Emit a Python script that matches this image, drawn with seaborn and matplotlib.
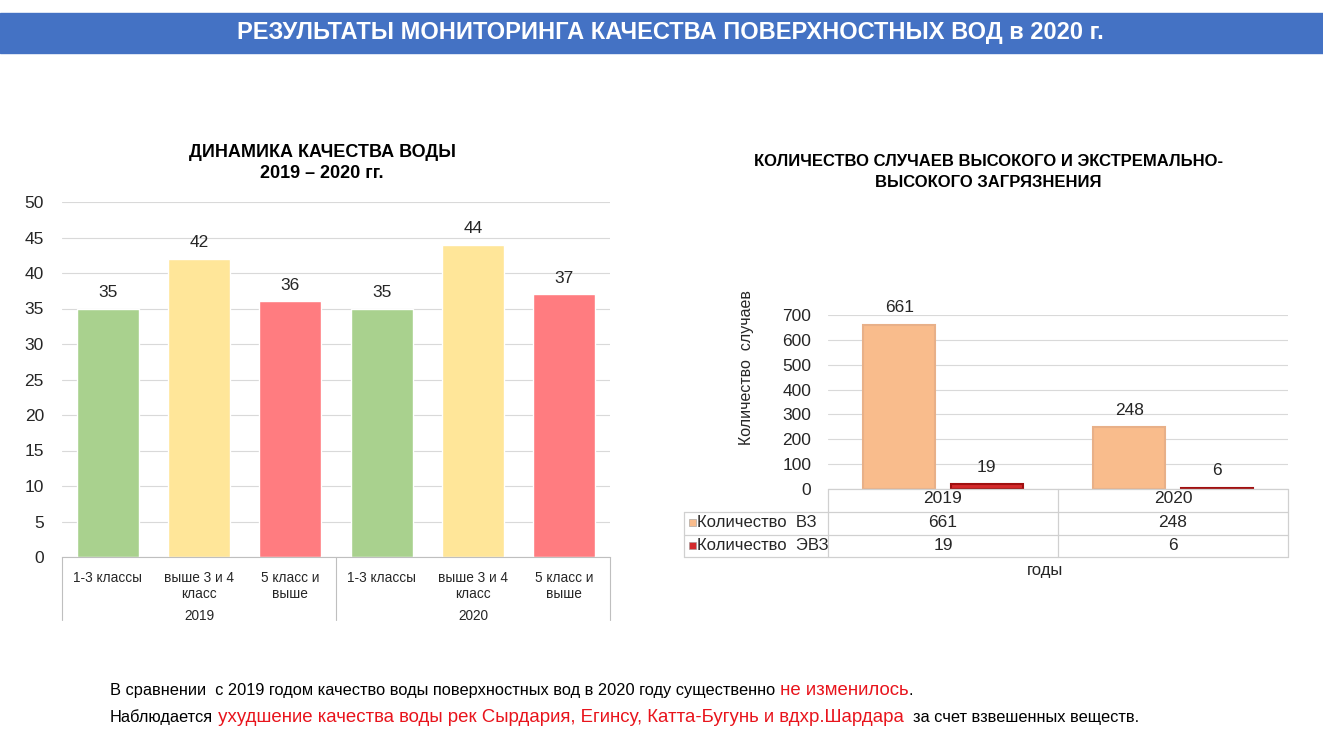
import numpy as np
import pandas as pd
import matplotlib
matplotlib.use("Agg")
import matplotlib.pyplot as plt
import seaborn as sns
from matplotlib.transforms import blended_transform_factory as btf
from matplotlib.patches import Rectangle
from matplotlib.lines import Line2D

# ---------------- data ----------------
years = ["2019", "2020"]
classes = ["1-3 классы", "выше 3 и 4\nкласс", "5 класс и\nвыше"]
quality_2019 = [35, 42, 36]
quality_2020 = [35, 44, 37]
class_colors = ["#A9D18E", "#FFE699", "#FF7C80"]

series_names = ["Количество  ВЗ", "Количество  ЭВЗ"]
vz = [661, 248]
evz = [19, 6]
series_colors = ["#F9BC8C", "#D42A2C"]
series_edges = ["#E8B088", "#A01010"]

main_title = "РЕЗУЛЬТАТЫ МОНИТОРИНГА КАЧЕСТВА ПОВЕРХНОСТНЫХ ВОД в 2020 г."
left_title = "ДИНАМИКА КАЧЕСТВА ВОДЫ\n2019 – 2020 гг."
right_title = "КОЛИЧЕСТВО СЛУЧАЕВ ВЫСОКОГО И ЭКСТРЕМАЛЬНО-\nВЫСОКОГО ЗАГРЯЗНЕНИЯ"
y2_label = "Количество  случаев"
x2_label = "годы"

RED = "#E8141C"
line1 = [("В сравнении  с 2019 годом качество воды поверхностных вод в 2020 году существенно", "black", 11.8),
         (" не изменилось", RED, 13.4),
         (".", "black", 11.8)]
line2 = [("Наблюдается", "black", 11.8),
         (" ухудшение качества воды рек Сырдария, Егинсу, Катта-Бугунь и вдхр.Шардара", RED, 13.4),
         ("  за счет взвешенных веществ.", "black", 11.8)]

# ---------------- style ----------------
sns.set_style("white")
NARROW = ['Liberation Sans Narrow', 'Liberation Sans', 'DejaVu Sans']
plt.rcParams['font.family'] = NARROW
TXT = "#262626"
GRID = "#D9D9D9"

W, H = 1323, 744
fig = plt.figure(figsize=(W / 100, H / 100), dpi=100)


def fx(px):
    return px / W


def fy(py):
    return 1 - py / H


# banner
fig.add_artist(Rectangle((0, fy(53)), 1, (53 - 13) / H, transform=fig.transFigure,
                         color="#4472C4", zorder=0))
fig.text(fx(670), fy(33), main_title, color="white", fontsize=17, fontweight="bold",
         ha="center", va="center")

# ---------------- left chart ----------------
ax1 = fig.add_axes([fx(62), fy(557), fx(610 - 62), (557 - 202) / H])
keys = [f"{y}|{c}" for y in years for c in classes]
df1 = pd.DataFrame({"key": keys, "cls": classes * 2, "value": quality_2019 + quality_2020})
sns.barplot(data=df1, x="key", y="value", hue="cls", palette=class_colors, width=0.68,
            dodge=False, legend=False, ax=ax1, saturation=1)
ax1.set_ylim(0, 50)
ax1.set_yticks(np.arange(0, 51, 5))
ax1.yaxis.grid(True, color=GRID, lw=0.8)
ax1.set_axisbelow(True)
for s in ["left", "top", "right"]:
    ax1.spines[s].set_visible(False)
ax1.spines["bottom"].set_color("#BFBFBF")
ax1.tick_params(axis="y", length=0, pad=13, labelsize=12.5, labelcolor=TXT)
ax1.set_xticks(range(len(keys)))
ax1.set_xticklabels(classes * 2, fontsize=9.8, color=TXT, linespacing=1.15)
ax1.tick_params(axis="x", length=0, pad=10)
ax1.set_xlabel("")
ax1.set_ylabel("")
for c in ax1.containers:
    ax1.bar_label(c, fontsize=12.5, padding=6, color=TXT)

tr1 = btf(ax1.transData, ax1.transAxes)
ncls = len(classes)
for i, y in enumerate(years):
    ax1.text(i * ncls + (ncls - 1) / 2, -0.166, y, transform=tr1, ha="center", va="center",
             fontsize=9.8, color=TXT)
for xb in [-0.5 + k * ncls for k in range(len(years) + 1)]:
    ax1.add_line(Line2D([xb, xb], [0, -0.178], transform=tr1, color="#BFBFBF", lw=0.8,
                        clip_on=False))

fig.text(fx(322), fy(163), left_title, fontsize=13, fontweight="bold", ha="center",
         va="center", linespacing=1.25, color="black")

# ---------------- right chart ----------------
ax2 = fig.add_axes([fx(828), fy(489), fx(1288 - 828), (489 - 315) / H])
df2 = pd.DataFrame({"year": years * 2,
                    "series": [series_names[0]] * 2 + [series_names[1]] * 2,
                    "value": vz + evz})
sns.barplot(data=df2, x="year", y="value", hue="series", palette=series_colors, width=0.76,
            gap=0.18, legend=False, ax=ax2, saturation=1)
for c, ec in zip(ax2.containers, series_edges):
    for p in c:
        p.set_edgecolor(ec)
        p.set_linewidth(1.5)
    ax2.bar_label(c, fontsize=12.5, padding=7, color=TXT)
ax2.set_ylim(0, 700)
ax2.set_yticks(np.arange(0, 701, 100))
ax2.yaxis.grid(True, color=GRID, lw=0.8)
ax2.set_axisbelow(True)
for s in ["left", "top", "right", "bottom"]:
    ax2.spines[s].set_visible(False)
ax2.tick_params(axis="y", length=0, pad=12, labelsize=12.5, labelcolor=TXT)
ax2.set_xticks([])
ax2.set_xlabel("")
ax2.set_ylabel("")

# data table under right chart
tr2 = btf(ax2.transData, ax2.transAxes)
TL = "#D0D0D0"
row_y = [-0.055, -0.19, -0.322]
line_y = [0.0, -0.132, -0.264, -0.391]
x_left_tbl = -0.5 - (828 - 684) / 230
ax2.add_line(Line2D([-0.5, len(years) - 0.5], [0, 0], transform=tr2, color=TL, lw=0.9, clip_on=False))
for ly in line_y[1:]:
    ax2.add_line(Line2D([x_left_tbl, len(years) - 0.5], [ly, ly], transform=tr2, color=TL,
                        lw=0.9, clip_on=False))
for k in range(len(years) + 1):
    ax2.add_line(Line2D([k - 0.5, k - 0.5], [0, line_y[-1]], transform=tr2, color=TL, lw=0.9,
                        clip_on=False))
ax2.add_line(Line2D([x_left_tbl, x_left_tbl], [line_y[1], line_y[-1]], transform=tr2, color=TL,
                    lw=0.9, clip_on=False))
for i, y in enumerate(years):
    ax2.text(i, row_y[0], y, transform=tr2, ha="center", va="center", fontsize=12.5, color=TXT)
for r, (name, vals, col) in enumerate(zip(series_names, [vz, evz], series_colors)):
    yy = row_y[r + 1]
    ax2.add_patch(Rectangle((x_left_tbl + 0.022, yy - 0.02), 0.028, 0.04, transform=tr2,
                            facecolor=col, edgecolor="#999999", lw=0.4, clip_on=False))
    ax2.text(x_left_tbl + 0.055, yy, name, transform=tr2, ha="left", va="center",
             fontsize=12, color=TXT)
    for i, v in enumerate(vals):
        ax2.text(i, yy, str(v), transform=tr2, ha="center", va="center", fontsize=12.5,
                 color=TXT)

fig.text(fx(1045), fy(570), x2_label, fontsize=12, ha="center", va="center", color=TXT)
fig.text(fx(746), fy(368), y2_label, fontsize=11.5, rotation=90, ha="center", va="center",
         color=TXT)
fig.text(fx(988), fy(172), right_title, fontsize=12, fontweight="bold", ha="center",
         va="center", linespacing=1.45, color="black")

# ---------------- bottom text ----------------
fig.canvas.draw()
renderer = fig.canvas.get_renderer()


def rich_line(x_px, y_px, parts):
    x = fx(x_px)
    for txt, color, size in parts:
        t = fig.text(x, fy(y_px), txt, color=color, fontsize=size, ha="left",
                     va="baseline")
        bb = t.get_window_extent(renderer=renderer)
        x = bb.x1 / fig.bbox.width


rich_line(110, 695, line1)
rich_line(110, 722, line2)

fig.savefig("out.png", dpi=100)
